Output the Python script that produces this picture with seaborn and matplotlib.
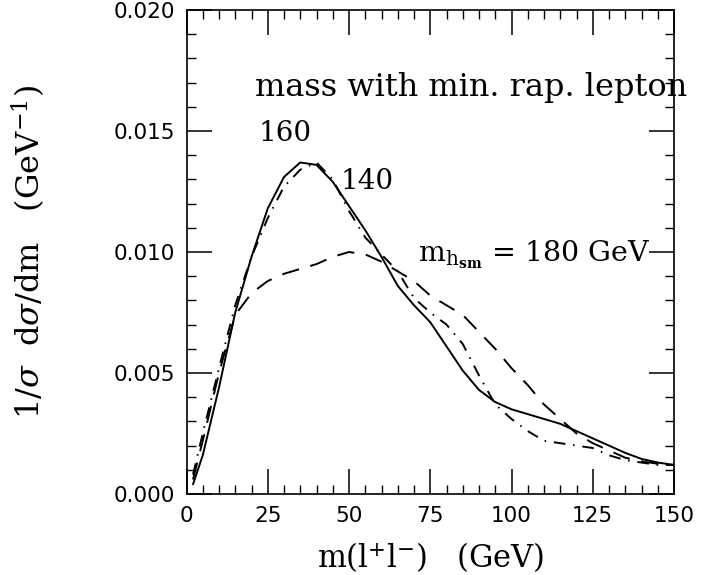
import numpy as np
import pandas as pd
import matplotlib
matplotlib.use("Agg")
import matplotlib.pyplot as plt
import seaborn as sns

# ---- data ----
mass = [2, 5, 10, 15, 20, 25, 30, 35, 40, 45, 50, 55, 60, 65, 70, 75, 80, 85,
        90, 95, 100, 105, 110, 115, 120, 125, 130, 135, 140, 145, 150]
h160 = [0.0004, 0.0016, 0.0044, 0.0075, 0.0098, 0.0118, 0.0131, 0.0137, 0.0136,
        0.0129, 0.0119, 0.0109, 0.0098, 0.0086, 0.0078, 0.0071, 0.0061, 0.0051,
        0.0043, 0.0038, 0.0035, 0.0033, 0.0031, 0.0029, 0.0026, 0.0023, 0.0020,
        0.0017, 0.00145, 0.0013, 0.0012]
h140 = [0.0008, 0.0025, 0.0052, 0.0078, 0.0098, 0.0114, 0.0127, 0.0134, 0.0137,
        0.0130, 0.0117, 0.0106, 0.0099, 0.0092, 0.0081, 0.0075, 0.0070, 0.0062,
        0.0049, 0.0037, 0.0031, 0.0026, 0.0022, 0.0021, 0.0020, 0.0019, 0.0016,
        0.0014, 0.0013, 0.0012, 0.0012]
h180 = [0.0006, 0.0022, 0.0050, 0.0074, 0.0083, 0.0088, 0.0091, 0.0093, 0.0095,
        0.0098, 0.0100, 0.0099, 0.0096, 0.0092, 0.0088, 0.0082, 0.0078, 0.0074,
        0.0067, 0.0060, 0.0052, 0.0045, 0.0037, 0.0031, 0.0025, 0.0021, 0.0018,
        0.0015, 0.00135, 0.00125, 0.0012]
series_names = ["160", "140", "180"]
x_ticks = [0, 25, 50, 75, 100, 125, 150]
y_ticks = [0.000, 0.005, 0.010, 0.015, 0.020]
y_tick_labels = ["0.000", "0.005", "0.010", "0.015", "0.020"]

df = pd.DataFrame({
    "m": mass * 3,
    "v": h160 + h140 + h180,
    "mh": [series_names[0]] * len(mass) + [series_names[1]] * len(mass)
          + [series_names[2]] * len(mass),
})

sns.set_theme(style="ticks")
plt.rcParams["mathtext.fontset"] = "dejavuserif"
plt.rcParams["font.family"] = ["DejaVu Sans"]

fig = plt.figure(figsize=(7.25, 5.75), dpi=100)
ax = fig.add_axes([186.5 / 725, 81 / 575, 487.5 / 725, 484 / 575])

sns.lineplot(data=df, x="m", y="v", style="mh", style_order=series_names,
             dashes={"160": "", "140": (6, 4, 0.8, 4), "180": (9, 6)},
             color="black", linewidth=1.4, legend=False, ax=ax, sort=False)

ax.set_xlim(0, 150)
ax.set_ylim(0, 0.020)
ax.set_xticks(x_ticks)
ax.set_xticklabels([str(t) for t in x_ticks])
ax.set_yticks(y_ticks)
ax.set_yticklabels(y_tick_labels)
ax.set_xticks(np.arange(0, 151, 5), minor=True)
ax.set_yticks(np.arange(0, 0.0201, 0.001), minor=True)
ax.tick_params(which="both", direction="in", top=True, right=True,
               color="black", labelsize=15.5, labelcolor="black")
ax.tick_params(which="major", length=18, width=1.1)
ax.tick_params(which="minor", length=6.5, width=1.0)
ax.tick_params(axis="x", which="major", pad=9)
ax.tick_params(axis="y", which="major", pad=8)
for s in ax.spines.values():
    s.set_visible(True)
    s.set_color("black")
    s.set_linewidth(1.2)

ax.set_xlabel("m(l$^{+}$l$^{-}$)   (GeV)", fontsize=22, family="DejaVu Serif",
              color="black")
ax.set_ylabel("1/$\\sigma$  d$\\sigma$/dm   (GeV$^{-1}$)", fontsize=23,
              family="DejaVu Serif", color="black")
ax.yaxis.set_label_coords(-0.285, 0.5)
ax.xaxis.set_label_coords(0.5, -0.095)

tkw = dict(family="DejaVu Serif", color="black")
ax.text(21, 0.0168, "mass with min. rap. lepton", va="center", ha="left",
        clip_on=False, fontsize=23, **tkw)
ax.text(30.3, 0.0149, "160", va="center", ha="center", fontsize=20, **tkw)
ax.text(55.5, 0.0129, "140", va="center", ha="center", fontsize=20, **tkw)
ax.text(71.2, 0.0099, "m$_{\\mathrm{h}_{\\mathbf{sm}}}$ = 180 GeV", va="center",
        ha="left", fontsize=20.5, **tkw)

fig.savefig("out.png", dpi=100, facecolor="white")
